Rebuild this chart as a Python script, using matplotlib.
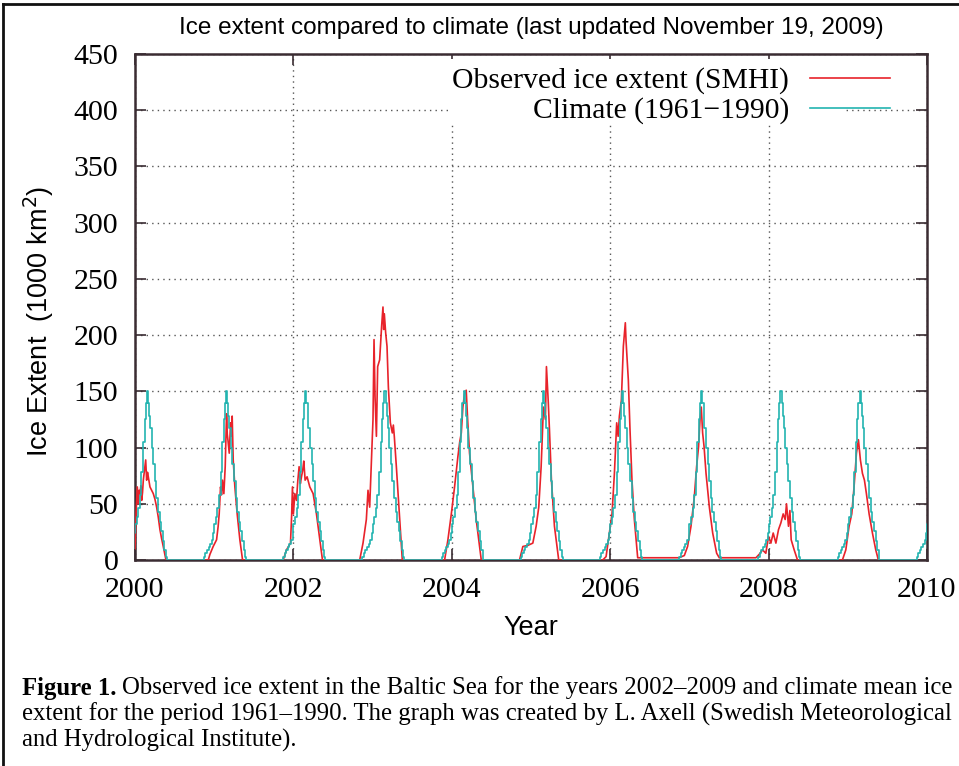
import matplotlib

matplotlib.use("Agg")

import matplotlib.pyplot as plt
from matplotlib.lines import Line2D
from matplotlib.patches import Rectangle

RED = "#e8232b"
CYAN = "#22b4b0"
FRAME = "#3a2c32"
SERIF = "Liberation Serif"
SANS = "Liberation Sans"

# climate mean (1961-1990): offset from Jan 1 (years) -> ice extent, same every winter
CLIMATE_OFFSET = [-0.14, -0.13, -0.11, -0.09, -0.07, -0.05, -0.03, -0.01,
                  0.00, 0.02, 0.04, 0.06, 0.08, 0.10, 0.12, 0.135, 0.15,
                  0.165, 0.18, 0.19, 0.21, 0.23, 0.25, 0.27, 0.29, 0.31,
                  0.33, 0.35, 0.37, 0.39, 0.40]
CLIMATE_VALUE = [0, 3, 6, 9, 12, 14, 18, 24,
                 32, 38, 46, 58, 78, 105, 125, 140, 150,
                 140, 128, 117, 100, 85, 70, 55, 43, 34,
                 26, 17, 9, 3, 0]
CLIMATE_YEARS = list(range(2000, 2011))

# observed ice extent (SMHI), one winter per pair of lists
OBS_2000_T = [2000.0, 2000.013, 2000.029, 2000.042, 2000.052, 2000.063, 2000.074, 2000.084,
              2000.095, 2000.105, 2000.12, 2000.135, 2000.147, 2000.158, 2000.168, 2000.189,
              2000.21, 2000.231, 2000.252, 2000.273, 2000.294, 2000.315, 2000.336, 2000.357, 2000.391]
OBS_2000_V = [10, 41, 65, 50, 62, 59, 66, 53, 60, 71, 80, 89, 71, 78, 74, 65,
              62, 59, 54, 47, 38, 27, 19, 12, 0]

OBS_2001_T = [2000.925, 2000.946, 2000.987, 2001.03, 2001.05, 2001.063, 2001.08, 2001.093,
              2001.105, 2001.122, 2001.139, 2001.156, 2001.165, 2001.173, 2001.19, 2001.207,
              2001.218, 2001.227, 2001.24, 2001.261, 2001.29, 2001.324, 2001.358]
OBS_2001_V = [0, 5, 12, 18, 30, 41, 65, 58, 71, 59, 83, 130, 112, 107, 95, 122,
              110, 128, 89, 65, 41, 18, 0]

OBS_2002_T = [2001.871, 2001.913, 2001.963, 2001.978, 2001.988, 2002.0, 2002.018, 2002.039,
              2002.055, 2002.072, 2002.088, 2002.102, 2002.118, 2002.131, 2002.148, 2002.173,
              2002.207, 2002.249, 2002.291, 2002.333, 2002.367]
OBS_2002_V = [0, 9, 15, 40, 65, 41, 59, 53, 70, 83, 68, 74, 80, 88, 71, 74,
              65, 59, 41, 18, 0]

OBS_2003_T = [2002.837, 2002.879, 2002.921, 2002.942, 2002.963, 2002.984, 2003.005, 2003.018,
              2003.031, 2003.048, 2003.064, 2003.089, 2003.114, 2003.131, 2003.14, 2003.148,
              2003.165, 2003.182, 2003.199, 2003.224, 2003.249, 2003.262, 2003.274, 2003.3,
              2003.342, 2003.375]
OBS_2003_V = [0, 15, 36, 62, 47, 86, 125, 196, 145, 110, 172, 178, 208, 225, 205, 219,
              202, 190, 154, 122, 113, 120, 110, 83, 36, 0]

OBS_2004_T = [2003.909, 2003.951, 2003.994, 2004.035, 2004.077, 2004.1, 2004.12, 2004.14,
              2004.161, 2004.182, 2004.2, 2004.224, 2004.266, 2004.308, 2004.372]
OBS_2004_V = [0, 18, 41, 65, 92, 105, 113, 136, 148, 151, 125, 95, 65, 36, 0]

OBS_2005_T = [2004.855, 2004.897, 2004.96, 2005.023, 2005.065, 2005.098, 2005.128, 2005.157,
              2005.182, 2005.195, 2005.217, 2005.233, 2005.258, 2005.296, 2005.35]
OBS_2005_V = [0, 12, 13, 15, 30, 47, 83, 136, 125, 172, 142, 116, 71, 30, 0]

OBS_2006_T = [2005.906, 2005.948, 2005.99, 2006.023, 2006.053, 2006.082, 2006.1, 2006.116,
              2006.141, 2006.166, 2006.191, 2006.2, 2006.212, 2006.229, 2006.25, 2006.275,
              2006.305, 2006.347, 2006.87]
OBS_2006_V = [0, 3, 24, 41, 77, 122, 110, 128, 142, 190, 211, 195, 181, 160, 116, 71,
              36, 2, 2]

OBS_2007_T = [2006.936, 2006.977, 2007.02, 2007.062, 2007.091, 2007.116, 2007.134, 2007.15,
              2007.167, 2007.185, 2007.21, 2007.252, 2007.294, 2007.344, 2007.377, 2007.84]
OBS_2007_V = [4, 12, 30, 56, 83, 101, 125, 136, 113, 101, 77, 47, 24, 6, 2, 2]

OBS_2008_T = [2007.881, 2007.923, 2007.965, 2007.999, 2008.029, 2008.058, 2008.092, 2008.125,
              2008.155, 2008.184, 2008.209, 2008.226, 2008.251, 2008.269, 2008.285, 2008.323,
              2008.365]
OBS_2008_V = [5, 9, 6, 21, 15, 24, 15, 27, 33, 41, 36, 50, 30, 44, 18, 9, 0]

OBS_2009_T = [2008.932, 2008.975, 2009.016, 2009.05, 2009.079, 2009.109, 2009.134, 2009.159,
              2009.185, 2009.21, 2009.235, 2009.269, 2009.311, 2009.353, 2009.386, 2009.88]
OBS_2009_V = [0, 9, 30, 41, 65, 95, 107, 89, 77, 71, 59, 41, 24, 9, 0, 0]

OBS_T = (OBS_2000_T + OBS_2001_T + OBS_2002_T + OBS_2003_T + OBS_2004_T
         + OBS_2005_T + OBS_2006_T + OBS_2007_T + OBS_2008_T + OBS_2009_T)
OBS_V = (OBS_2000_V + OBS_2001_V + OBS_2002_V + OBS_2003_V + OBS_2004_V
         + OBS_2005_V + OBS_2006_V + OBS_2007_V + OBS_2008_V + OBS_2009_V)

X_TICKS = [2000, 2002, 2004, 2006, 2008, 2010]
Y_TICKS = list(range(0, 451, 50))

fig = plt.figure(figsize=(9.59, 7.66), dpi=100)
ax = fig.add_axes([135 / 959, 206 / 766, 792 / 959, 506 / 766])

clim_t = [y + off for y in CLIMATE_YEARS for off in CLIMATE_OFFSET]
clim_v = [v for _ in CLIMATE_YEARS for v in CLIMATE_VALUE]

ax.plot(OBS_T, OBS_V, color=RED, lw=1.2, zorder=3)
ax.plot(clim_t, clim_v, color=CYAN, lw=1.2, drawstyle="steps-post", zorder=4)

ax.set_xlim(2000, 2010)
ax.set_ylim(0, 450)
ax.set_xticks(X_TICKS)
ax.set_yticks(Y_TICKS)
ax.tick_params(direction="in", length=8, width=1.2, color=FRAME,
               top=True, right=True, labelsize=21.5, pad=12)
for lab in ax.get_xticklabels() + ax.get_yticklabels():
    lab.set_fontfamily(SERIF)
ax.tick_params(axis="y", pad=12)
for sp in ax.spines.values():
    sp.set_color(FRAME)
    sp.set_linewidth(1.8)
ax.grid(True, linestyle=(0, (1, 3)), color="#555555", lw=1.0)
ax.set_axisbelow(True)

# gnuplot-style key: opaque box, text right-aligned, sample line after it
ax.add_patch(Rectangle((0.395, 0.86), 0.5, 0.13, transform=ax.transAxes,
                       facecolor="white", edgecolor="none", zorder=5))
for i, (label, col) in enumerate([("Observed ice extent (SMHI)", RED),
                                  ("Climate (1961\u22121990)", CYAN)]):
    yy = 0.948 - i * 0.059
    ax.text(0.826, yy, label, transform=ax.transAxes, ha="right", va="center",
            fontsize=21.3, family=SERIF, zorder=6)
    ax.add_line(Line2D([0.852, 0.953], [yy + 0.004, yy + 0.004], transform=ax.transAxes,
                       color=col, lw=1.2, zorder=6))

ax.set_xlabel("Year", fontsize=19.5, family=SANS, labelpad=9)
ax.set_ylabel("Ice Extent  (1000 km$^2$)", fontsize=19.5, family=SANS)
ax.yaxis.set_label_coords(-0.100, 0.472)

fig.text(531 / 959, 1 - 28 / 766,
         "Ice extent compared to climate (last updated November 19, 2009)",
         ha="center", va="center", fontsize=17.5, family=SANS)

# figure frame on the left and top
fig.add_artist(Line2D([3 / 959, 3 / 959], [0, 1 - 4 / 766], transform=fig.transFigure,
                      color="#111111", lw=2))
fig.add_artist(Line2D([3 / 959, 1], [1 - 4 / 766, 1 - 4 / 766], transform=fig.transFigure,
                      color="#111111", lw=2))

# caption
cap_size = 17.8
cap_x = 22 / 959
bold = fig.text(cap_x, 1 - 688 / 766, "Figure 1.", fontsize=cap_size, family=SERIF,
                weight="bold", va="center")
fig.canvas.draw()
bb = bold.get_window_extent()
fig.text(bb.x1 / fig.bbox.width + 5 / 959, 1 - 688 / 766,
         "Observed ice extent in the Baltic Sea for the years 2002\u20132009 and climate mean ice",
         fontsize=cap_size, family=SERIF, va="center")
fig.text(cap_x, 1 - 714 / 766,
         "extent for the period 1961\u20131990. The graph was created by L. Axell (Swedish Meteorological",
         fontsize=cap_size, family=SERIF, va="center")
fig.text(cap_x, 1 - 740 / 766, "and Hydrological Institute).",
         fontsize=cap_size, family=SERIF, va="center")

fig.savefig("out.png", dpi=100)
